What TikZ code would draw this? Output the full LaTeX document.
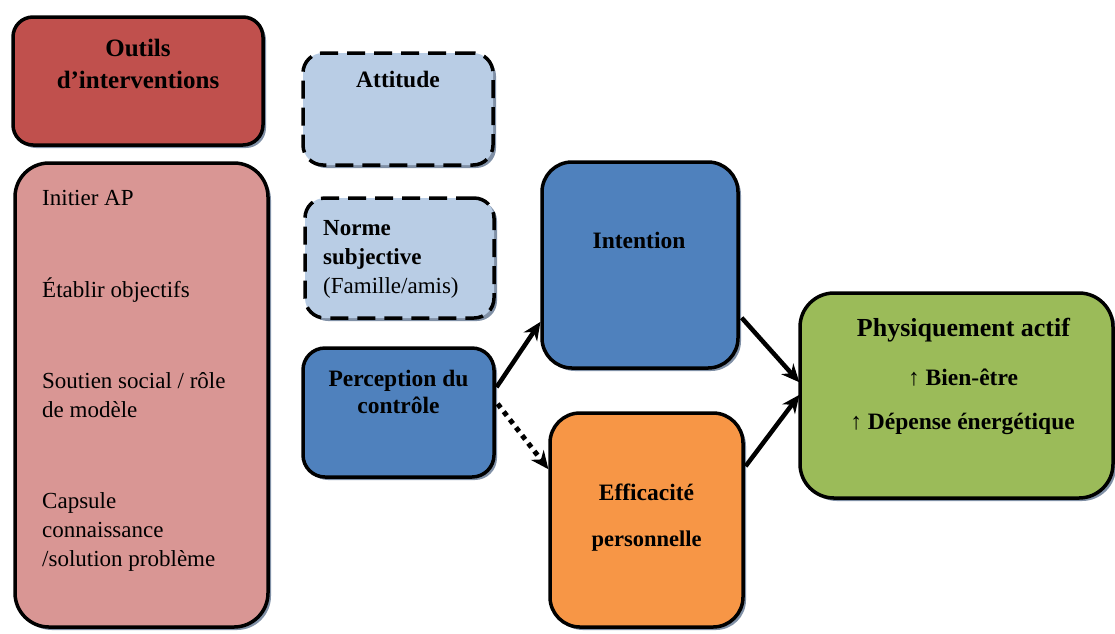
\documentclass[tikz,border=0pt]{standalone}
\usepackage{fontspec}
\setmainfont{Liberation Serif}
\usetikzlibrary{arrows.meta,shadows}
\definecolor{redbox}{RGB}{192,80,77}
\definecolor{pinkbox}{RGB}{217,150,148}
\definecolor{lightblue}{RGB}{185,205,229}
\definecolor{midblue}{RGB}{79,129,189}
\definecolor{orangebox}{RGB}{247,150,70}
\definecolor{greenbox}{RGB}{155,187,89}
\definecolor{shcol}{RGB}{128,144,166}
\tikzset{
  panel/.style={draw=black, line width=3.5pt, rectangle, inner sep=0pt,
    drop shadow={shadow xshift=3pt, shadow yshift=-3pt, fill=shcol, opacity=1}},
  dashpanel/.style={panel, dash pattern=on 18pt off 9pt},
  hd/.style={font=\bfseries\fontsize{23.5}{29}\selectfont, align=center, inner sep=0pt, anchor=base},
  tx/.style={font=\fontsize{23}{29}\selectfont, align=left, inner sep=0pt, anchor=base west},
  link/.style={line width=4.5pt, -{Stealth[length=18pt,width=16pt]}, shorten <=1pt, shorten >=1pt},
  dotlink/.style={link, line width=5pt, dash pattern=on 5pt off 5pt}
}
\begin{document}
\begin{tikzpicture}[x=1pt, y=-1pt]
\useasboundingbox (0,0) rectangle (1115,633);

% boxes
\node[panel, fill=redbox, rounded corners=20pt, minimum width=250pt, minimum height=128pt] (outils) at (138,81) {};
\node[panel, fill=pinkbox, rounded corners=34pt, minimum width=253pt, minimum height=464pt] (liste) at (141.5,395) {};
\node[dashpanel, fill=lightblue, rounded corners=20pt, minimum width=190pt, minimum height=112pt] (attitude) at (398,109) {};
\node[dashpanel, fill=lightblue, rounded corners=20pt, minimum width=189pt, minimum height=120pt] (norme) at (399.5,258) {};
\node[panel, fill=midblue, rounded corners=22pt, minimum width=191pt, minimum height=129pt] (perception) at (398.5,412.5) {};
\node[panel, fill=midblue, rounded corners=30pt, minimum width=196pt, minimum height=206pt] (intention) at (640,265) {};
\node[panel, fill=orangebox, rounded corners=30pt, minimum width=193pt, minimum height=214pt] (efficacite) at (646.5,520) {};
\node[panel, fill=greenbox, rounded corners=34pt, minimum width=313pt, minimum height=205pt] (actif) at (956.5,395.5) {};

% box texts (multi-line nodes sit on the baseline of their last line)
\node[hd, font=\bfseries\fontsize{25}{32}\selectfont] (outilsT) at (138,88) {Outils\\d’interventions};
\node[tx] (l1) at (42,205) {Initier AP};
\node[tx] (l2) at (42,297) {Établir objectifs};
\node[tx] (l3) at (42,417) {Soutien social / rôle\\de modèle};
\node[tx] (l4) at (42,566) {Capsule\\connaissance\\/solution problème};
\node[hd] (attitudeT) at (398,87) {Attitude};
\node[tx, font=\fontsize{23}{29}\selectfont] (normeT) at (323,293) {\textbf{Norme}\\\textbf{subjective}\\(Famille/amis)};
\node[hd, font=\bfseries\fontsize{23.5}{27}\selectfont] (perceptionT) at (398.5,413) {Perception du\\contrôle};
\node[hd] (intentionT) at (639,248) {Intention};
\node[hd] (efficaciteT) at (646.5,500) {Efficacité};
\node[hd, font=\bfseries\fontsize{22.5}{27}\selectfont] (personnelleT) at (646.5,546) {personnelle};
\node[hd, font=\bfseries\fontsize{26}{30}\selectfont] (actifT) at (963.5,336) {Physiquement actif};
\node[hd] (bienT) at (963,385) {{\mdseries ↑} Bien-être};
\node[hd] (depenseT) at (962.5,429) {{\mdseries ↑} Dépense énergétique};

% connectors
\coordinate (pA) at (496,388);
\coordinate (pB) at (497,403);
\coordinate (iIn) at (541,321);
\coordinate (eIn) at (549,470);
\coordinate (iOut) at (741,317);
\coordinate (eOut) at (745,467);
\coordinate (aIn1) at (800,383);
\coordinate (aIn2) at (800,394);
\draw[link] (pA) -- (iIn);
\draw[dotlink] (pB) -- (eIn);
\draw[link] (iOut) -- (aIn1);
\draw[link] (eOut) -- (aIn2);
\end{tikzpicture}
\end{document}
